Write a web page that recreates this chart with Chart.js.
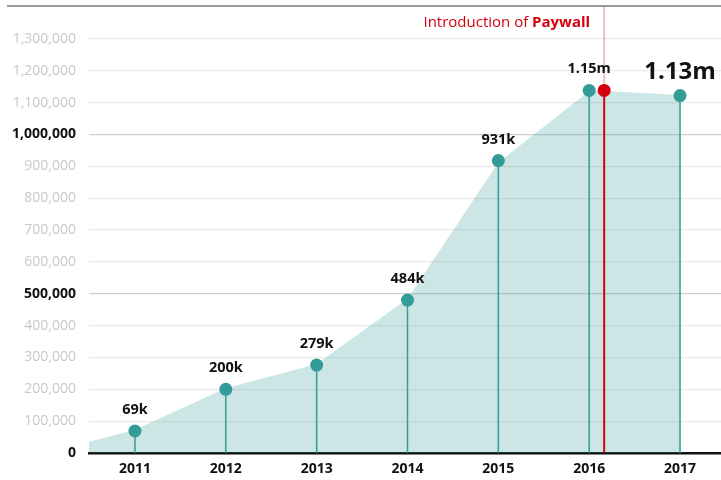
<!DOCTYPE html>
<html>
<head>
<meta charset="utf-8">
<script src="https://cdn.jsdelivr.net/npm/chart.js@4.4.1/dist/chart.umd.min.js"></script>
<style>
  html, body { margin: 0; padding: 0; background: #fff; }
  #wrap { width: 721px; height: 480px; }
</style>
</head>
<body>
<div id="wrap"><canvas id="c" width="721" height="480"></canvas></div>
<script>
// ---- data ----
const years = [2011, 2012, 2013, 2014, 2015, 2016, 2017];
const readers = [69000, 200000, 276000, 480000, 918000, 1138000, 1122000];
const valueLabels = ['69k', '200k', '279k', '484k', '931k', '1.15m', '1.13m'];
const areaYears = [2010.494, 2011, 2012, 2013, 2014, 2015, 2016, 2016.165, 2017];
const areaValues = [35000, 73000, 203000, 279000, 484000, 912000, 1136000, 1136000, 1124000];
const paywallYear = 2016.165;
const paywallValue = 1138000;
const yTickValues = [0, 100000, 200000, 300000, 400000, 500000, 600000, 700000, 800000, 900000, 1000000, 1100000, 1200000, 1300000];
const boldTicks = [0, 500000, 1000000];

const TEAL = '#339c98';
const RED = '#d6000f';
const FONT = "'Open Sans', 'Noto Sans', sans-serif";
const isBold = c => !!(c && c.tick && boldTicks.includes(c.tick.value));

const overlay = {
  id: 'overlay',
  afterDatasetDraw(chart, args) {
    if (args.index !== 0) return;
    const ctx = chart.ctx, xs = chart.scales.x, ys = chart.scales.y;
    const y0 = ys.getPixelForValue(0);
    ctx.save();
    ctx.strokeStyle = TEAL;
    ctx.lineWidth = 1.5;
    years.forEach((yr, i) => {
      const px = xs.getPixelForValue(yr);
      ctx.beginPath();
      ctx.moveTo(px, ys.getPixelForValue(readers[i]));
      ctx.lineTo(px, y0);
      ctx.stroke();
    });
    const rx = xs.getPixelForValue(paywallYear);
    const ry = ys.getPixelForValue(paywallValue);
    ctx.lineWidth = 2;
    ctx.strokeStyle = 'rgba(214,0,15,0.25)';
    ctx.beginPath(); ctx.moveTo(rx, 6); ctx.lineTo(rx, ry); ctx.stroke();
    ctx.strokeStyle = RED;
    ctx.beginPath(); ctx.moveTo(rx, ry); ctx.lineTo(rx, y0); ctx.stroke();
    ctx.restore();
  },
  afterDraw(chart) {
    const ctx = chart.ctx, xs = chart.scales.x, ys = chart.scales.y;
    ctx.save();
    ctx.strokeStyle = '#777';
    ctx.lineWidth = 1.5;
    ctx.beginPath(); ctx.moveTo(7, 6); ctx.lineTo(721, 6); ctx.stroke();
    ctx.fillStyle = '#111';
    ctx.textAlign = 'center';
    ctx.textBaseline = 'alphabetic';
    years.forEach((yr, i) => {
      const px = xs.getPixelForValue(yr);
      const py = ys.getPixelForValue(readers[i]);
      const last = i === years.length - 1;
      ctx.font = (last ? 'bold 24px ' : 'bold 14.5px ') + FONT;
      ctx.fillText(valueLabels[i], px, py - 17);
    });
    const rx = xs.getPixelForValue(paywallYear);
    ctx.fillStyle = RED;
    ctx.textAlign = 'left';
    ctx.font = 'bold 15px ' + FONT;
    const boldTxt = 'Paywall';
    const bw = ctx.measureText(boldTxt).width;
    ctx.font = '15px ' + FONT;
    const normTxt = 'Introduction of ';
    const nw = ctx.measureText(normTxt).width;
    const right = rx - 14;
    ctx.fillText(normTxt, right - bw - nw, 27);
    ctx.font = 'bold 15px ' + FONT;
    ctx.fillText(boldTxt, right - bw, 27);
    ctx.restore();
  }
};

new Chart(document.getElementById('c'), {
  type: 'scatter',
  data: {
    datasets: [
      {
        type: 'line',
        data: areaYears.map((x, i) => ({ x, y: areaValues[i] })),
        fill: 'origin',
        backgroundColor: 'rgba(51,156,152,0.25)',
        borderWidth: 0,
        pointRadius: 0,
        tension: 0,
        order: 3
      },
      {
        data: years.map((x, i) => ({ x, y: readers[i] })),
        backgroundColor: TEAL,
        borderWidth: 0,
        pointRadius: 6.5,
        order: 1
      },
      {
        data: [{ x: paywallYear, y: paywallValue }],
        backgroundColor: RED,
        borderWidth: 0,
        pointRadius: 6.5,
        order: 0
      }
    ]
  },
  options: {
    responsive: false,
    animation: false,
    events: [],
    layout: { autoPadding: false, padding: { top: 7, left: 0, right: 0, bottom: 0 } },
    plugins: { legend: { display: false }, tooltip: { enabled: false } },
    scales: {
      x: {
        type: 'linear',
        min: 2010.494,
        max: 2017.451,
        afterBuildTicks(s) { s.ticks = years.map(v => ({ value: v })); },
        afterFit(s) { s.height = 27; s.paddingLeft = 0; s.paddingRight = 0; },
        grid: { display: false, drawTicks: false },
        border: { display: true, color: '#111', width: 2.5 },
        ticks: {
          padding: 8,
          color: '#111',
          font: { family: FONT, size: 14, weight: 'bold' },
          callback: v => String(v)
        }
      },
      y: {
        min: 0,
        max: 1400000,
        afterBuildTicks(s) { s.ticks = yTickValues.map(v => ({ value: v })); },
        afterFit(s) { s.width = 89; s.paddingTop = 0; s.paddingBottom = 0; },
        border: { display: false },
        grid: {
          drawTicks: false,
          lineWidth: 1.2,
          color: c => (c && c.tick && c.tick.value === 0) ? 'rgba(0,0,0,0)' :
            (isBold(c) ? '#cfcfcf' : '#e9e9e9')
        },
        ticks: {
          padding: 13,
          color: c => isBold(c) ? '#111' : '#c8c8c8',
          font: c => ({ family: FONT, size: 14, weight: isBold(c) ? 'bold' : 'normal' }),
          callback: v => v.toLocaleString('en-US')
        }
      }
    }
  },
  plugins: [overlay]
});
</script>
</body>
</html>
